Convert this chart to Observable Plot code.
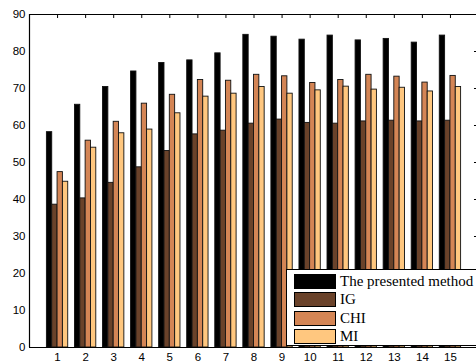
<!DOCTYPE html>
<html>
<head>
<meta charset="utf-8">
<script src="https://cdn.jsdelivr.net/npm/d3@7"></script>
<script src="https://cdn.jsdelivr.net/npm/@observablehq/plot@0.6"></script>
<style>
  html, body { margin: 0; padding: 0; background: #fff; overflow: hidden; }
  #wrap { position: relative; width: 476px; height: 364px; overflow: hidden; }
  #legend {
    position: absolute; left: 286px; top: 269px; width: 220px; height: 77px;
    border: 1px solid #000; background: #fff; box-sizing: border-box;
    font-family: "Liberation Serif", "Times New Roman", serif; font-size: 15px; color: #000;
  }
  .row { position: absolute; left: 7px; height: 15px; display: flex; align-items: center; white-space: nowrap; }
  .sw { width: 40px; height: 13px; border: 1px solid #000; margin-right: 4px; }
</style>
</head>
<body>
<div id="wrap"></div>
<script>
const groups = [1, 2, 3, 4, 5, 6, 7, 8, 9, 10, 11, 12, 13, 14, 15];
const seriesNames = ["The presented method", "IG", "CHI", "MI"];
const seriesColors = ["#000000", "#6a422a", "#d48555", "#ffc77f"];
const presented = [58.2, 65.6, 70.4, 74.6, 76.9, 77.6, 79.5, 84.5, 84.0, 83.2, 84.3, 83.0, 83.4, 82.4, 84.3];
const ig        = [38.6, 40.3, 44.5, 48.7, 53.1, 57.6, 58.6, 60.5, 61.6, 60.7, 60.5, 61.1, 61.3, 61.1, 61.3];
const chi       = [47.4, 55.9, 61.0, 65.9, 68.3, 72.3, 72.1, 73.7, 73.3, 71.5, 72.3, 73.7, 73.2, 71.6, 73.4];
const mi        = [44.8, 54.0, 57.9, 58.9, 63.3, 67.8, 68.6, 70.4, 68.6, 69.5, 70.5, 69.7, 70.2, 69.2, 70.4];
const yTicks = [0, 10, 20, 30, 40, 50, 60, 70, 80, 90];

const seriesValues = [presented, ig, chi, mi];
const barW = 0.19;
const rows = [];
seriesValues.forEach((vals, k) => {
  vals.forEach((v, i) => {
    rows.push({group: groups[i], k, series: seriesNames[k], value: v});
  });
});

const chart = Plot.plot({
  width: 476,
  height: 364,
  marginLeft: 29,
  marginRight: 0,
  marginTop: 14,
  marginBottom: 17,
  style: {fontFamily: "'Liberation Sans', Arial, sans-serif", fontSize: "11.5px", background: "#fff", color: "#000"},
  x: {domain: [0, 16], range: [29, 478]},
  y: {domain: [0, 90]},
  color: {domain: seriesNames, range: seriesColors},
  marks: [
    Plot.rectY(rows, {
      x1: d => d.group - 2 * barW + d.k * barW,
      x2: d => d.group - 2 * barW + (d.k + 1) * barW,
      y1: 0,
      y2: "value",
      fill: "series",
      stroke: "#111",
      strokeWidth: 0.9
    }),
    Plot.ruleX(groups, {x: d => d, y1: 90, y2: 90 - 4 / 3.7, stroke: "#000", strokeWidth: 1}),
    Plot.ruleY(yTicks.filter(t => t > 0 && t < 90), {y: d => d, x1: 16, x2: 16 - 4 / 28.06, stroke: "#000", strokeWidth: 1}),
    Plot.ruleY([0, 90], {stroke: "#000", strokeWidth: 1.2}),
    Plot.ruleX([0], {stroke: "#000", strokeWidth: 1.2}),
    Plot.axisY({ticks: yTicks, tickSize: 0, tickPadding: 4, label: null}),
    Plot.axisX({ticks: groups, tickSize: 0, tickPadding: 5, label: null, tickFormat: d => String(d)})
  ]
});
const wrap = document.getElementById("wrap");
wrap.appendChild(chart);

const legend = document.createElement("div");
legend.id = "legend";
seriesNames.forEach((name, k) => {
  const row = document.createElement("div");
  row.className = "row";
  row.style.top = (4 + k * 18.3) + "px";
  const sw = document.createElement("div");
  sw.className = "sw";
  sw.style.background = seriesColors[k];
  const tx = document.createElement("span");
  tx.textContent = name;
  row.appendChild(sw);
  row.appendChild(tx);
  legend.appendChild(row);
});
wrap.appendChild(legend);
</script>
</body>
</html>
